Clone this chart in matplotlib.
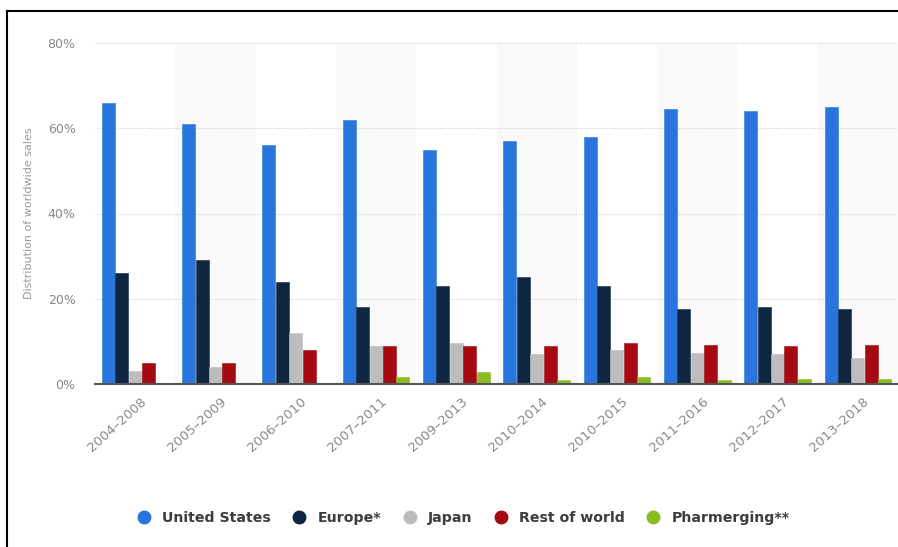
import matplotlib
matplotlib.use("Agg")
import matplotlib.pyplot as plt
import numpy as np
from matplotlib.lines import Line2D

periods = ["2004–2008", "2005–2009", "2006–2010", "2007–2011", "2009–2013",
           "2010–2014", "2010–2015", "2011–2016", "2012–2017", "2013–2018"]
series_names = ["United States", "Europe*", "Japan", "Rest of world", "Pharmerging**"]
us = [66, 61, 56, 62, 55, 57, 58, 64.5, 64, 65]
europe = [26, 29, 24, 18, 23, 25, 23, 17.5, 18, 17.5]
japan = [3, 4, 12, 9, 9.7, 7, 8, 7.2, 7, 6]
rest = [5, 5, 8, 9, 9, 9, 9.7, 9.2, 9, 9.2]
pharmerging = [0, 0, 0, 1.7, 2.9, 0.9, 1.7, 0.9, 1.2, 1.2]
colors = ["#2876dd", "#0f2641", "#bdbdbd", "#a50a13", "#8bbc21"]
yticks = [0, 20, 40, 60, 80]

plt.rcParams['font.family'] = ['DejaVu Sans']

fig = plt.figure(figsize=(8.98, 5.47), dpi=100)
ax = fig.add_axes([95/898, 1-384/547, 1-95/898, (384-43)/547])

n = len(periods)
x = np.arange(n)
for i in range(n):
    if i % 2 == 1:
        ax.axvspan(i-0.5, i+0.5, color="#f9f9f9", zorder=0, lw=0)

data = [us, europe, japan, rest, pharmerging]
w = 0.167
for k, (vals, c) in enumerate(zip(data, colors)):
    ax.bar(x + (k-2)*w, vals, width=w*0.97, color=c, edgecolor=c, linewidth=0.4,
           zorder=3)

ax.set_xlim(-0.5, n-0.5)
ax.set_ylim(0, 80)
ax.set_yticks(yticks)
ax.set_yticklabels([f"{v}%" for v in yticks], color="#888888", fontsize=9)
ax.yaxis.grid(True, linestyle=(0, (1, 1.5)), color="#cccccc", linewidth=0.8, zorder=1)
ax.set_axisbelow(True)
for s in ["top", "right", "left"]:
    ax.spines[s].set_visible(False)
ax.spines["bottom"].set_color("#555555")
ax.spines["bottom"].set_linewidth(1.5)
ax.spines["bottom"].set_zorder(4)
ax.tick_params(axis="y", length=0, pad=14)
ax.tick_params(axis="x", length=0, pad=8)
ax.set_xticks(x + 0.06)
ax.set_xticklabels(periods, rotation=42, ha="right", rotation_mode="anchor",
                   color="#888888", fontsize=9.5)
ax.set_ylabel("Distribution of worldwide sales", color="#999999", fontsize=8)
ax.yaxis.set_label_coords(-61/803, 0.5)

handles = [Line2D([0], [0], marker='o', linestyle='none', markersize=9,
                  markerfacecolor=c, markeredgecolor=c) for c in colors]
leg = fig.legend(handles, series_names, loc="center", bbox_to_anchor=(0.512, 1-518/547),
                 ncol=5, frameon=False, handletextpad=0.3, columnspacing=1.0,
                 prop={'weight': 'bold', 'size': 10.2})
for t in leg.get_texts():
    t.set_color("#3d3d3d")

fig.add_artist(Line2D([7/898, 1], [1-10.5/547, 1-10.5/547], color="black", lw=1.5,
                      transform=fig.transFigure))
fig.add_artist(Line2D([7/898, 7/898], [0, 1-10.5/547], color="black", lw=1.5,
                      transform=fig.transFigure))

fig.savefig("out.png", dpi=100)
